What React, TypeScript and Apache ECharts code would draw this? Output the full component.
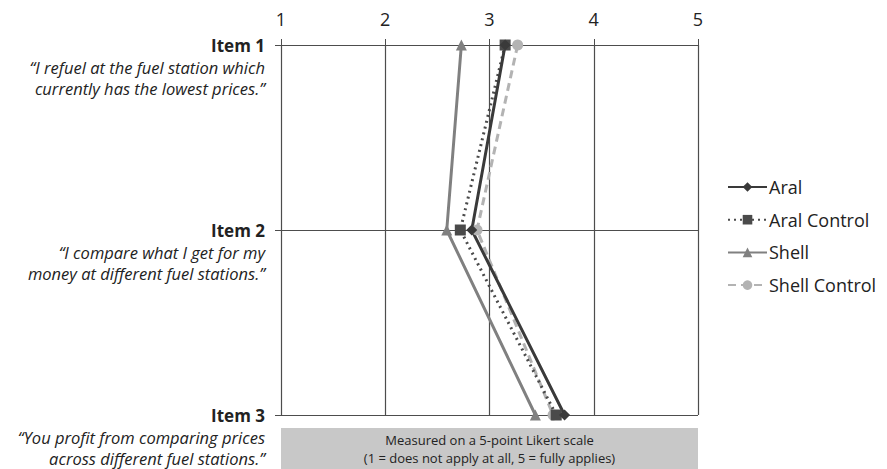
import React, { useEffect, useRef } from "react";
import * as echarts from "echarts";

const items = ["Item 1", "Item 2", "Item 3"];
const quotes = [
  ["“I refuel at the fuel station which", "currently has the lowest prices.”"],
  ["“I compare what I get for my", "money at different fuel stations.”"],
  ["“You profit from comparing prices", "across different fuel stations.”"],
];
const xTicks = [1, 2, 3, 4, 5];
const aral = [3.15, 2.83, 3.72];
const aralControl = [3.15, 2.72, 3.64];
const shell = [2.73, 2.59, 3.44];
const shellControl = [3.27, 2.88, 3.61];
const noteLines = ["Measured on a 5-point Likert scale", "(1 = does not apply at all, 5 = fully applies)"];

const FONT = "Open Sans";

export default function App() {
  const ref = useRef<HTMLDivElement>(null);
  useEffect(() => {
    if (!ref.current) return;
    const chart = echarts.init(ref.current, null, { renderer: "svg" });
    const gridLeft = 281, gridRight = 189, gridTop = 45, gridBottom = 54;
    const mk = (name: string, data: number[], color: string, type: any, symbol: string, size: number) => ({
      name,
      type: "line",
      data,
      symbol,
      symbolSize: size,
      lineStyle: { color, width: 3, type },
      itemStyle: { color },
      z: 3,
    });
    chart.setOption({
      animation: false,
      backgroundColor: "#ffffff",
      textStyle: { fontFamily: FONT },
      grid: {
        left: gridLeft,
        right: gridRight,
        top: gridTop,
        bottom: gridBottom,
        containLabel: false,
        outerBoundsMode: "none",
      },
      xAxis: {
        type: "value",
        position: "top",
        min: xTicks[0],
        max: xTicks[xTicks.length - 1],
        interval: 1,
        axisLine: { show: false },
        axisTick: { show: true, length: 6, lineStyle: { color: "#4d4d4d" } },
        axisLabel: { fontSize: 18, color: "#222", margin: 17, fontFamily: FONT },
        splitLine: { show: true, lineStyle: { color: "#4d4d4d", width: 1.2 } },
      },
      yAxis: {
        type: "category",
        data: items,
        inverse: true,
        boundaryGap: false,
        axisLine: { show: false },
        axisTick: { show: true, length: 6, lineStyle: { color: "#4d4d4d" } },
        splitLine: { show: true, lineStyle: { color: "#4d4d4d", width: 1.2 } },
        axisLabel: {
          margin: 16,
          align: "right",
          verticalAlign: "middle",
          lineHeight: 21,
          formatter: (v: string, i: number) =>
            `{e|}\n{e|}\n{b|${v}}\n{q|${quotes[i][0]}}\n{q|${quotes[i][1]}}`,
          rich: {
            e: { fontSize: 16, lineHeight: 21, align: "right" },
            b: { fontSize: 17, fontWeight: "bold", color: "#222", lineHeight: 23, align: "right", fontFamily: FONT },
            q: { fontSize: 16.5, fontStyle: "italic", color: "#222", lineHeight: 21, align: "right", fontFamily: FONT },
          },
        },
      },
      legend: {
        orient: "vertical",
        left: 722,
        top: 171,
        itemGap: 10.7,
        itemWidth: 39,
        itemHeight: 12,
        textStyle: { fontSize: 18, lineHeight: 22, color: "#222", fontFamily: FONT, padding: [0, 0, 0, -3] },
        data: ["Aral", "Aral Control", "Shell", "Shell Control"],
      },
      series: [
        mk("Shell Control", shellControl, "#b3b3b3", [8, 5], "circle", 11),
        mk("Shell", shell, "#808080", "solid", "triangle", 11),
        mk("Aral Control", aralControl, "#4a4a4a", [2, 4], "rect", 11),
        mk("Aral", aral, "#3a3a3a", "solid", "diamond", 11),
      ],
      graphic: [
        {
          type: "group",
          left: gridLeft,
          top: 428,
          children: [
            { type: "rect", shape: { x: 0, y: 0, width: 417, height: 41 }, style: { fill: "#c8c8c8" } },
            {
              type: "text",
              x: 208.5,
              y: 3,
              style: {
                text: noteLines.join("\n"),
                fontSize: 13,
                lineHeight: 18,
                fontFamily: FONT,
                fill: "#222",
                align: "center",
              },
            },
          ],
        },
      ],
    });
    return () => chart.dispose();
  }, []);
  return <div ref={ref} style={{ width: 887, height: 469, position: "absolute", left: 0, top: 0 }} />;
}
